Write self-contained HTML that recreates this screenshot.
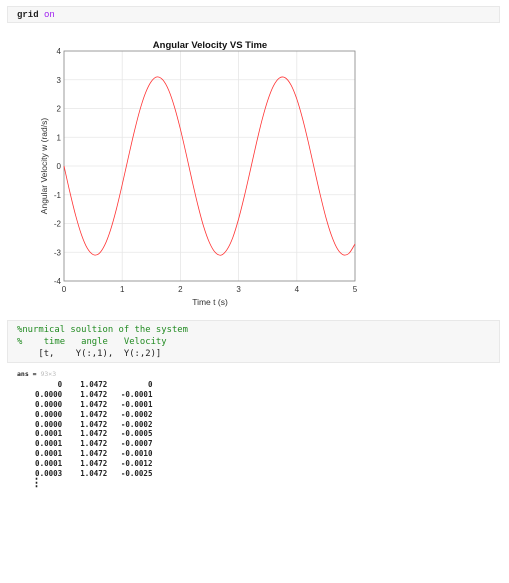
<!DOCTYPE html>
<html><head><meta charset="utf-8"><style>
body{margin:0;width:509px;height:583px;background:#fff;position:relative;overflow:hidden;font-family:"Liberation Sans",sans-serif}
.cell{position:absolute;left:7px;width:493px;background:#f7f7f7;border:1px solid #e8e8e8;box-sizing:border-box}
.mono{font-family:"Liberation Mono","DejaVu Sans Mono",monospace}
pre{margin:0}
</style></head><body>
<div class="cell mono" style="top:6px;height:17px;font-size:9px;padding:3px 0 0 9px;font-weight:bold;color:#222">grid <span style="color:#a020f0;font-weight:normal">on</span></div>
<svg width="509" height="310" style="position:absolute;left:0;top:0">
<g id="grid"></g>
<rect x="64" y="51" width="291" height="230" fill="none" stroke="#888" stroke-width="0.8"/>
<g id="ticks" font-size="8" fill="#333"></g>
<path id="curve" fill="none" stroke="#ff3333" stroke-width="0.8"/>
<text x="210" y="48" text-anchor="middle" font-size="9.5" font-weight="bold" fill="#111">Angular Velocity VS Time</text>
<text x="210" y="305" text-anchor="middle" font-size="8.5" fill="#333">Time t (s)</text>
<text transform="translate(47,166) rotate(-90)" text-anchor="middle" font-size="8.5" fill="#333">Angular Velocity w (rad/s)</text>
</svg>
<div class="cell mono" style="top:320px;height:43px;font-size:8.9px;padding:3px 0 0 9px;line-height:12px;color:#228b22"><pre>%nurmical soultion of the system
%    time   angle   Velocity
<span style="color:#222">    [t,    Y(:,1),  Y(:,2)]</span></pre></div>
<div class="mono" style="position:absolute;left:17px;top:369px;font-size:7.5px;line-height:9.9px;color:#222;font-weight:bold"><pre><span style="font-size:6.5px">ans = <span style="color:#bbb;font-weight:normal">93×3</span></span>
         0    1.0472         0
    0.0000    1.0472   -0.0001
    0.0000    1.0472   -0.0001
    0.0000    1.0472   -0.0002
    0.0000    1.0472   -0.0002
    0.0001    1.0472   -0.0005
    0.0001    1.0472   -0.0007
    0.0001    1.0472   -0.0010
    0.0001    1.0472   -0.0012
    0.0003    1.0472   -0.0025</pre>
<div style="margin-left:14px;font-size:11px;line-height:10px">⋮</div></div>
<script>
const times=[0,0.1,0.2,0.3,0.4,0.5,0.6,0.7,0.8,0.9,1.0,1.1,1.2,1.3,1.4,1.5,1.6,1.7,1.8,1.9,2.0,2.1,2.2,2.3,2.4,2.5,2.6,2.7,2.8,2.9,3.0,3.1,3.2,3.3,3.4,3.5,3.6,3.7,3.8,3.9,4.0,4.1,4.2,4.3,4.4,4.5,4.6,4.7,4.8,4.9,5.0];
const velocity=[0,-0.90,-1.72,-2.39,-2.86,-3.08,-3.05,-2.75,-2.22,-1.50,-0.65,0.25,1.13,1.92,2.54,2.94,3.10,2.99,2.63,2.04,1.28,0.41,-0.50,-1.36,-2.11,-2.67,-3.01,-3.10,-2.91,-2.49,-1.84,-1.04,-0.16,0.74,1.58,2.28,2.79,3.06,3.07,2.82,2.33,1.64,0.81,-0.09,-0.98,-1.79,-2.44,-2.89,-3.09,-3.03,-2.71];
const xTicks=[0,1,2,3,4,5];
const yTicks=[-4,-3,-2,-1,0,1,2,3,4];
const X0=64,X1=355,Y0=281,Y1=51;
const xs=v=>X0+(v-0)/(5-0)*(X1-X0);
const ys=v=>Y0-(v+4)/8*(Y0-Y1);
const NS='http://www.w3.org/2000/svg';
const g=document.getElementById('grid'),tk=document.getElementById('ticks');
function mk(tag,at,par){const e=document.createElementNS(NS,tag);for(const k in at)e.setAttribute(k,at[k]);par.appendChild(e);return e;}
xTicks.forEach(t=>{const x=xs(t);
 const l=mk('line',{x1:x,x2:x,y1:Y1,y2:Y0,stroke:'#e6e6e6','stroke-width':0.8},g);
 
 
 const tx=mk('text',{x:x,y:Y0+11,'text-anchor':'middle'},tk);tx.textContent=t;
 
 });
yTicks.forEach(t=>{const y=ys(t);
 const l=mk('line',{x1:X0,x2:X1,y1:y,y2:y,stroke:'#e6e6e6','stroke-width':0.8},g);
 
 
 const tx=mk('text',{x:X0-3,y:y+3,'text-anchor':'end'},tk);tx.textContent=t;
 
 });
const P=times.map((t,i)=>[xs(t),ys(velocity[i])]);
let d='M'+P[0][0]+','+P[0][1];
for(let i=0;i<P.length-1;i++){const p0=P[Math.max(i-1,0)],p1=P[i],p2=P[i+1],p3=P[Math.min(i+2,P.length-1)];
 d+=' C'+(p1[0]+(p2[0]-p0[0])/6)+','+(p1[1]+(p2[1]-p0[1])/6)+' '+(p2[0]-(p3[0]-p1[0])/6)+','+(p2[1]-(p3[1]-p1[1])/6)+' '+p2[0]+','+p2[1];}
document.getElementById('curve').setAttribute('d',d);
</script>
</body></html>
